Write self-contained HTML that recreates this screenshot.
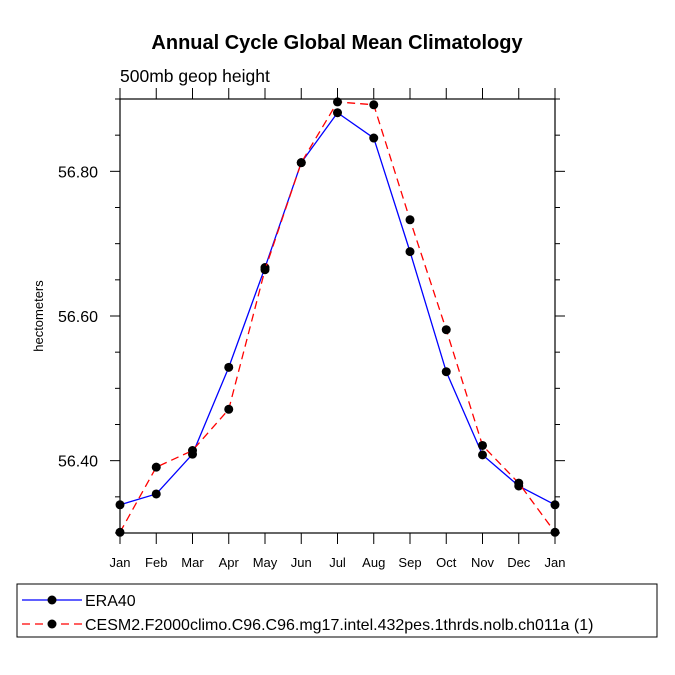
<!DOCTYPE html>
<html><head><meta charset="utf-8"><style>body{margin:0;background:#fff}svg{display:block;font-family:"Liberation Sans",sans-serif}</style></head>
<body>
<svg id="chart" width="675" height="675" viewBox="0 0 675 675">
<text x="337" y="49" text-anchor="middle" font-size="20" font-weight="bold">Annual Cycle Global Mean Climatology</text>
<text x="120" y="82" font-size="17.5">500mb geop height</text>
<text transform="translate(43,316) rotate(-90)" text-anchor="middle" font-size="13">hectometers</text>
<g id="axes"></g>
<g id="series"></g>
<rect x="17" y="584" width="640" height="53" fill="none" stroke="#000" stroke-width="1"/>
<g>
<line x1="22" y1="600" x2="82" y2="600" stroke="#00f" stroke-width="1.3"/><circle cx="52" cy="600" r="4.5"/>
<text x="85" y="606" font-size="16">ERA40</text></g>
<g>
<line x1="22" y1="624" x2="82" y2="624" stroke="#f00" stroke-width="1.3" stroke-dasharray="8,5"/><circle cx="52" cy="624" r="4.5"/>
<text x="85" y="630" font-size="16">CESM2.F2000climo.C96.C96.mg17.intel.432pes.1thrds.nolb.ch011a (1)</text></g>
</svg>
<script>
const months=["Jan","Feb","Mar","Apr","May","Jun","Jul","Aug","Sep","Oct","Nov","Dec","Jan"];
const era40=[56.339,56.354,56.409,56.529,56.667,56.812,56.881,56.846,56.689,56.523,56.408,56.365,56.339];
const cesm=[56.301,56.391,56.414,56.471,56.664,56.812,56.896,56.892,56.733,56.581,56.421,56.369,56.301];
const yTicks=[56.40,56.60,56.80];
const yMinor=[56.30,56.35,56.45,56.50,56.55,56.65,56.70,56.75,56.85,56.90];
const X0=120,X1=555,Y0=99,Y1=533,YMIN=56.30,YMAX=56.90;
const xs=i=>X0+(X1-X0)*i/(months.length-1);
const ys=v=>Y1-(v-YMIN)/(YMAX-YMIN)*(Y1-Y0);
const NS="http://www.w3.org/2000/svg";
function mk(t,a,p){const e=document.createElementNS(NS,t);for(const k in a)e.setAttribute(k,a[k]);p.appendChild(e);return e;}
const ax=document.getElementById('axes');
const frame=mk('rect',{x:X0,y:Y0,width:X1-X0,height:Y1-Y0,fill:'none',stroke:'#000','stroke-width':1.2},ax);


months.forEach((m,i)=>{const x=xs(i);
mk('line',{x1:x,y1:Y1,x2:x,y2:Y1+11,stroke:'#000'},ax);
mk('line',{x1:x,y1:Y0,x2:x,y2:Y0-11,stroke:'#000'},ax);
const t=mk('text',{x:x,y:Y1+34,'text-anchor':'middle','font-size':13},ax);t.textContent=m;

});
yTicks.forEach(v=>{const y=ys(v);
mk('line',{x1:X0-10,y1:y,x2:X0,y2:y,stroke:'#000'},ax);
mk('line',{x1:X1,y1:y,x2:X1+10,y2:y,stroke:'#000'},ax);
const t=mk('text',{x:X0-22,y:y+6,'text-anchor':'end','font-size':16},ax);t.textContent=v.toFixed(2);

});
yMinor.forEach(v=>{const y=ys(v);
mk('line',{x1:X0-5,y1:y,x2:X0,y2:y,stroke:'#000'},ax);
mk('line',{x1:X1,y1:y,x2:X1+5,y2:y,stroke:'#000'},ax);});
const sg=document.getElementById('series');
function draw(data,color,dash,name){const g=mk('g',{},sg);


mk('polyline',{points:data.map((v,i)=>xs(i)+','+ys(v)).join(' '),fill:'none',stroke:color,'stroke-width':1.3,'stroke-dasharray':dash},g);
data.forEach((v,i)=>{const c=mk('circle',{cx:xs(i),cy:ys(v),r:4.5,fill:'#000'},g);

});}
draw(era40,'#00f','none','era40-series');
draw(cesm,'#f00','8,5','cesm2-series');
</script>
</body></html>
